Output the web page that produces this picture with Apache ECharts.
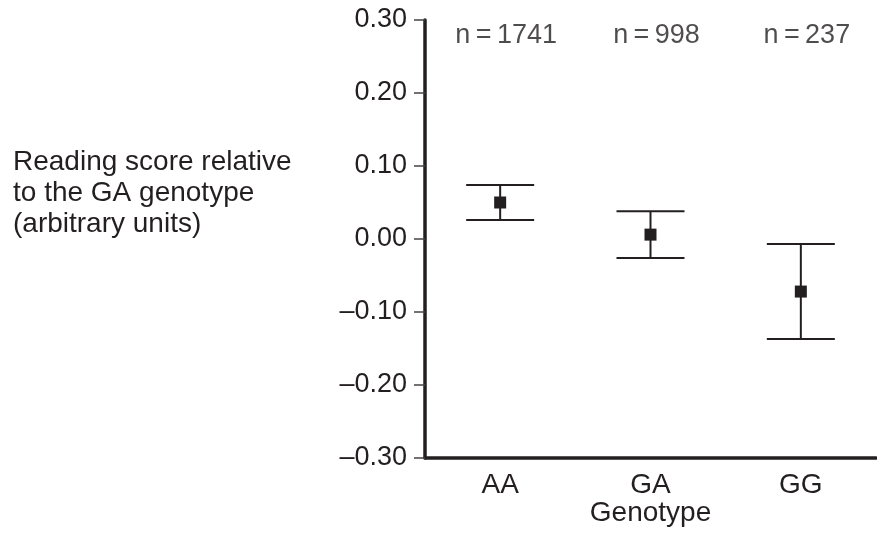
<!DOCTYPE html>
<html>
<head>
<meta charset="utf-8">
<script src="https://cdn.jsdelivr.net/npm/echarts@6/dist/echarts.min.js"></script>
<style>html,body{margin:0;padding:0;background:#fff}#c{width:877px;height:540px}</style>
</head>
<body>
<div id="c"></div>
<script>
const categories = ['AA', 'GA', 'GG'];
const means = [0.050, 0.006, -0.072];
const lowers = [0.026, -0.026, -0.137];
const uppers = [0.074, 0.038, -0.007];
const nCounts = [1741, 998, 237];
const yTicks = { min: -0.3, max: 0.3, interval: 0.1 };

const ink = '#231f20';
const chart = echarts.init(document.getElementById('c'), null, { renderer: 'canvas' });
const font = '"Liberation Sans", Arial, Helvetica, sans-serif';

const fmt = v => {
  const s = Math.abs(v).toFixed(2);
  return v < -1e-9 ? '\u2013' + s : s;
};

chart.setOption({
  animation: false,
  backgroundColor: '#fff',
  textStyle: { fontFamily: font, color: ink },
  title: {
    text: 'Reading score relative\nto the GA genotype\n(arbitrary units)',
    left: 13, top: 147, padding: 0,
    textStyle: { fontFamily: font, fontSize: 28, lineHeight: 31, fontWeight: 'normal', color: ink }
  },
  grid: { left: 425, right: 1, top: 20, bottom: 82, containLabel: false },
  xAxis: {
    type: 'category',
    data: categories,
    boundaryGap: true,
    name: 'Genotype',
    nameLocation: 'middle',
    nameGap: 41,
    nameMoveOverlap: false,
    nameTextStyle: { fontFamily: font, fontSize: 28, color: ink },
    axisLine: { onZero: false, lineStyle: { color: ink, width: 3.5 } },
    axisTick: { alignWithLabel: true, length: 10, lineStyle: { color: '#444', width: 1.5 } },
    axisLabel: { fontFamily: font, fontSize: 28, color: ink, margin: 13 },
    splitLine: { show: false }
  },
  yAxis: {
    type: 'value',
    min: yTicks.min, max: yTicks.max, interval: yTicks.interval,
    axisLine: { show: true, lineStyle: { color: ink, width: 3.5 } },
    axisTick: { show: true, length: 11, lineStyle: { color: '#444', width: 1.5 } },
    axisLabel: { fontFamily: font, fontSize: 27, color: ink, margin: 18, formatter: fmt },
    splitLine: { show: false }
  },
  series: [
    {
      type: 'custom',
      data: categories.map((c, i) => [i, lowers[i], uppers[i]]),
      renderItem: function (params, api) {
        const x = api.value(0);
        const lo = api.coord([x, api.value(1)]);
        const hi = api.coord([x, api.value(2)]);
        const hw = 34;
        const st = { stroke: ink, lineWidth: 2 };
        return {
          type: 'group',
          children: [
            { type: 'line', shape: { x1: hi[0], y1: hi[1], x2: lo[0], y2: lo[1] }, style: st },
            { type: 'line', shape: { x1: hi[0] - hw, y1: hi[1], x2: hi[0] + hw, y2: hi[1] }, style: st },
            { type: 'line', shape: { x1: lo[0] - hw, y1: lo[1], x2: lo[0] + hw, y2: lo[1] }, style: st }
          ]
        };
      },
      z: 2
    },
    {
      type: 'scatter',
      data: categories.map((c, i) => [i, means[i]]),
      symbol: 'rect',
      symbolSize: 12,
      itemStyle: { color: ink, opacity: 1 },
      z: 3
    },
    {
      type: 'scatter',
      data: categories.map((c, i) => [i, 0.279]),
      symbolSize: 0,
      silent: true,
      label: {
        show: true,
        position: 'inside',
        offset: [6, 0],
        fontFamily: font,
        fontSize: 27,
        color: ink,
        formatter: p => 'n\u2009=\u2009' + nCounts[p.dataIndex]
      }
    }
  ]
});
</script>
</body>
</html>
